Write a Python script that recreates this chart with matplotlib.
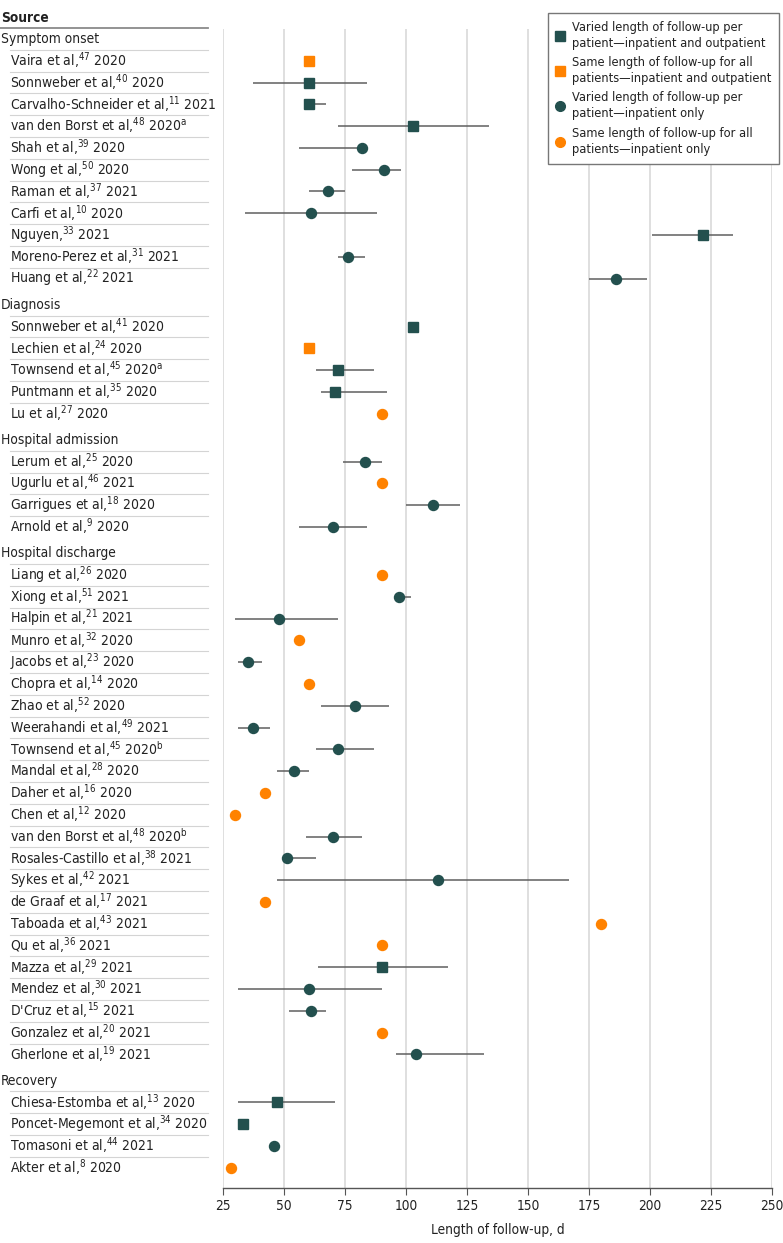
import numpy as np
import matplotlib.pyplot as plt
from matplotlib.lines import Line2D
from matplotlib.transforms import blended_transform_factory

plt.rcParams['font.family'] = ['DejaVu Sans']
plt.rcParams['font.stretch'] = 'condensed'
plt.rcParams['mathtext.fontset'] = 'custom'
plt.rcParams['mathtext.rm'] = 'DejaVu Sans:stretch=condensed'
plt.rcParams['mathtext.it'] = 'DejaVu Sans:stretch=condensed'

# data
groups = ["Symptom onset", "Diagnosis", "Hospital admission", "Hospital discharge", "Recovery"]
group_sizes = [11, 5, 4, 23, 4]

authors = ["Vaira et al", "Sonnweber et al", "Carvalho-Schneider et al", "van den Borst et al",
           "Shah et al", "Wong et al", "Raman et al", "Carfi et al", "Nguyen", "Moreno-Perez et al",
           "Huang et al",
           "Sonnweber et al", "Lechien et al", "Townsend et al", "Puntmann et al", "Lu et al",
           "Lerum et al", "Ugurlu et al", "Garrigues et al", "Arnold et al",
           "Liang et al", "Xiong et al", "Halpin et al", "Munro et al", "Jacobs et al", "Chopra et al",
           "Zhao et al", "Weerahandi et al", "Townsend et al", "Mandal et al", "Daher et al",
           "Chen et al", "van den Borst et al", "Rosales-Castillo et al", "Sykes et al",
           "de Graaf et al", "Taboada et al", "Qu et al", "Mazza et al", "Mendez et al",
           "D'Cruz et al", "Gonzalez et al", "Gherlone et al",
           "Chiesa-Estomba et al", "Poncet-Megemont et al", "Tomasoni et al", "Akter et al"]
refs = [47, 40, 11, 48, 39, 50, 37, 10, 33, 31, 22,
        41, 24, 45, 35, 27,
        25, 46, 18, 9,
        26, 51, 21, 32, 23, 14, 52, 49, 45, 28, 16, 12, 48, 38, 42, 17, 43, 36, 29, 30, 15, 20, 19,
        13, 34, 44, 8]
years = [2020, 2020, 2021, 2020, 2020, 2020, 2021, 2020, 2021, 2021, 2021,
         2020, 2020, 2020, 2020, 2020,
         2020, 2021, 2020, 2020,
         2020, 2021, 2021, 2020, 2020, 2020, 2020, 2021, 2020, 2020, 2020, 2020, 2020, 2021, 2021,
         2021, 2021, 2021, 2021, 2021, 2021, 2021, 2021,
         2020, 2020, 2021, 2020]
notes = [""] * 47
notes[3] = "a"
notes[13] = "a"
notes[28] = "b"
notes[32] = "b"

days = [60, 60, 60, 103, 82, 91, 68, 61, 222, 76, 186,
        103, 60, 72, 71, 90,
        83, 90, 111, 70,
        90, 97, 48, 56, 35, 60, 79, 37, 72, 54, 42, 30, 70, 51, 113, 42, 180, 90, 90, 60, 61, 90, 104,
        47, 33, 46, 28]
low = [np.nan, 37, 58, 72, 56, 78, 60, 34, 201, 72, 175,
       np.nan, np.nan, 63, 65, np.nan,
       74, np.nan, 100, 56,
       np.nan, 95, 30, np.nan, 31, np.nan, 65, 31, 63, 47, np.nan, np.nan, 59, 49, 47, np.nan,
       np.nan, np.nan, 64, 31, 52, np.nan, 96,
       31, 31, 44, np.nan]
high = [np.nan, 84, 67, 134, 83, 98, 75, 88, 234, 83, 199,
        np.nan, np.nan, 87, 92, np.nan,
        90, np.nan, 122, 84,
        np.nan, 102, 72, np.nan, 41, np.nan, 93, 44, 87, 60, np.nan, np.nan, 82, 63, 167, np.nan,
        np.nan, np.nan, 117, 90, 67, np.nan, 132,
        71, 35, 48, np.nan]
# VB varied/in+out, SB same/in+out, VI varied/inpatient, SI same/inpatient
kind = ["SB", "VB", "VB", "VB", "VI", "VI", "VI", "VI", "VB", "VI", "VI",
        "VB", "SB", "VB", "VB", "SI",
        "VI", "SI", "VI", "VI",
        "SI", "VI", "VI", "SI", "VI", "SI", "VI", "VI", "VI", "VI", "SI", "SI", "VI", "VI", "VI",
        "SI", "SI", "SI", "VB", "VI", "VI", "SI", "VI",
        "VB", "VB", "VI", "SI"]

legend_labels = ["Varied length of follow-up per\npatient\u2014inpatient and outpatient",
                 "Same length of follow-up for all\npatients\u2014inpatient and outpatient",
                 "Varied length of follow-up per\npatient\u2014inpatient only",
                 "Same length of follow-up for all\npatients\u2014inpatient only"]

teal = "#23504e"
orange = "#ff8200"
txt = "#222222"
styles = {"VB": ("s", teal), "SB": ("s", orange), "VI": ("o", teal), "SI": ("o", orange)}

# row positions (headers get a little extra space)
pos = 0.0
header_pos, row_pos = [], []
for g, n in enumerate(group_sizes):
    if g > 0:
        pos += 1.2
    header_pos.append(pos)
    for i in range(n):
        pos += 1
        row_pos.append(pos)
row_pos = np.array(row_pos)
days = np.array(days, dtype=float)
low = np.array(low, dtype=float)
high = np.array(high, dtype=float)

W, H = 783, 1243
fig = plt.figure(figsize=(W / 100, H / 100), dpi=100)
ax = fig.add_axes([223.3 / W, 55 / H, (771.7 - 223.3) / W, (1188 - 28.5) / H])

has_err = ~np.isnan(low)
ax.hlines(row_pos[has_err], low[has_err], high[has_err], color="#5f5f5f", lw=1.1, zorder=2)
for k, (m, c) in styles.items():
    sel = np.array([kk == k for kk in kind])
    ax.plot(days[sel], row_pos[sel], ls="none", marker=m, color=c,
            ms=7.2 if m == "o" else 7.0, zorder=3)

ax.set_xlim(25, 250)
ax.set_ylim(52.73, -0.48)
ax.set_xticks(range(25, 251, 25))
ax.set_yticks([])
ax.grid(axis="x", color="#d9d9d9", lw=1.2)
ax.set_axisbelow(True)
for s in ["top", "right", "left"]:
    ax.spines[s].set_visible(False)
ax.spines["bottom"].set_color("#555555")
ax.spines["bottom"].set_linewidth(1.0)
ax.tick_params(axis="x", length=5, color="#555555", labelsize=9.8, labelcolor=txt, pad=3)
ax.set_xlabel("Length of follow-up, d", fontsize=9.8, color=txt, labelpad=7)

# left label column
trans = blended_transform_factory(fig.transFigure, ax.transData)
ax.text(1 / W, -0.96, "Source", transform=trans, ha="left", va="center",
        fontsize=9.8, fontweight="bold", color=txt, clip_on=False)
fig.add_artist(Line2D([0, 208 / W], [-0.5, -0.5], transform=trans, color="#8a8a8a", lw=1.3))
for g, hp in zip(groups, header_pos):
    ax.text(1 / W, hp, g, transform=trans, ha="left", va="center",
            fontsize=9.9, color=txt, clip_on=False)
for i, p in enumerate(row_pos):
    lab = f"{authors[i]},$^{{\\mathregular{{{refs[i]}}}}}$ {years[i]}"
    if notes[i]:
        lab += f"$^{{\\mathregular{{{notes[i]}}}}}$"
    ax.text(10 / W, p, lab, transform=trans, ha="left", va="center",
            fontsize=10, color=txt, clip_on=False)
    fig.add_artist(Line2D([10 / W, 208 / W], [p - 0.5, p - 0.5], transform=trans,
                          color="#d4d4d4", lw=0.8))

handles = [Line2D([], [], ls="none", marker=styles[k][0], color=styles[k][1], ms=7)
           for k in ["VB", "SB", "VI", "SI"]]
leg = fig.legend(handles, legend_labels, loc="upper right",
                 bbox_to_anchor=(779 / W, 1 - 13 / H), frameon=True, fancybox=False,
                 edgecolor="#777777", framealpha=1, fontsize=9.2, handlelength=0.8,
                 handletextpad=0.5, borderpad=0.6, labelspacing=0.5, borderaxespad=0)
leg.get_frame().set_linewidth(1.0)
for t in leg.get_texts():
    t.set_color(txt)
    t.set_linespacing(1.3)

fig.savefig("out.png", dpi=100)
